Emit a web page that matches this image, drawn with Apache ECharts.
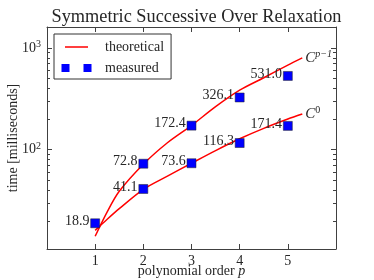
<!DOCTYPE html>
<html>
<head>
<meta charset="utf-8">
<script src="https://cdn.jsdelivr.net/npm/echarts@6/dist/echarts.min.js"></script>
<style>
html,body{margin:0;padding:0;background:#fff;}
#chart{width:374px;height:280px;}
</style>
</head>
<body>
<div id="chart"></div>
<script>
// ---- data ----
var titleText = 'Symmetric Successive Over Relaxation';
var xName = 'polynomial order ';
var yName = 'time [milliseconds]';
var xTicks = [1, 2, 3, 4, 5];
var yMajorTicks = [100, 1000];
var yMinorTicks = [20, 30, 40, 50, 60, 70, 80, 90, 200, 300, 400, 500, 600, 700, 800, 900];

// measured points
var measuredP = [1, 2, 2, 3, 3, 4, 4, 5, 5];
var measuredT = [18.9, 41.1, 72.8, 73.6, 172.4, 116.3, 326.1, 171.4, 531.0];

// theoretical curves
var theoP = [1, 1.25, 1.5, 2, 2.5, 3, 3.5, 4, 4.5, 5, 5.3];
var theoUpper = [14.1, 24.5, 39, 72, 117, 173, 265, 385, 510, 678, 798];
var theoLower = [16.1, 20.7, 26.3, 40.8, 55, 73.6, 98, 128, 162, 200, 224];

var serif = '"Liberation Serif", "DejaVu Serif", serif';
var txt = '#262626';
var axisCol = '#404040';

function pairs(xs, ys) { return xs.map(function (x, i) { return [x, ys[i]]; }); }

var chart = echarts.init(document.getElementById('chart'), null, {renderer: 'canvas'});

var supRich = {
  b: {fontFamily: serif, fontSize: 14, color: txt},
  s: {fontFamily: serif, fontSize: 10, color: txt, padding: [0, 0, 7, 0]}
};

function xAxisCfg(grid, pos, showLabel, showLine, ticks) {
  return {
    type: 'value', gridIndex: grid, position: pos, min: 0, max: 6, interval: 1,
    nameMoveOverlap: false,
    axisLine: {show: showLine, onZero: false, lineStyle: {color: axisCol, width: 1}},
    axisTick: {show: ticks, inside: true, length: 5, lineStyle: {color: axisCol}},
    axisLabel: {show: showLabel, showMinLabel: false, showMaxLabel: false, margin: 5,
      fontFamily: serif, fontSize: 14, color: txt},
    splitLine: {show: false}
  };
}

function yAxisCfg(grid, pos, ticks, len, showLine, showLabel) {
  return {
    type: 'log', gridIndex: grid, position: pos, min: 10.56, max: 1608, logBase: 10,
    nameMoveOverlap: false,
    axisLine: {show: showLine, onZero: false, lineStyle: {color: axisCol, width: 1}},
    axisTick: {show: true, inside: true, length: len, customValues: ticks, lineStyle: {color: axisCol}},
    axisLabel: {show: showLabel, customValues: showLabel ? yMajorTicks : undefined, margin: 6,
      formatter: function (v) {
        var e = Math.log10(v);
        if (Math.abs(e - Math.round(e)) > 1e-6) return '';
        return '{b|10}{s|' + Math.round(e) + '}';
      },
      rich: supRich},
    splitLine: {show: false}
  };
}

var gridBox = {left: 47, top: 27, right: 38, bottom: 31, containLabel: false, outerBoundsMode: 'none'};

var option = {
  animation: false,
  backgroundColor: '#fff',
  title: {
    text: titleText, left: 191.5, textAlign: 'center', top: 3,
    textStyle: {fontFamily: serif, fontSize: 18.3, fontWeight: 'normal', color: txt}
  },
  grid: [Object.assign({}, gridBox), Object.assign({}, gridBox)],
  xAxis: [
    xAxisCfg(0, 'bottom', true, true, true),
    xAxisCfg(0, 'top', false, true, true),
    xAxisCfg(1, 'bottom', false, false, false)
  ],
  yAxis: [
    yAxisCfg(0, 'left', yMajorTicks, 5, true, true),
    yAxisCfg(0, 'right', yMajorTicks, 5, true, false),
    yAxisCfg(1, 'left', yMinorTicks, 3, false, false),
    yAxisCfg(1, 'right', yMinorTicks, 3, false, false)
  ],
  legend: {
    left: 54, top: 34, orient: 'vertical',
    padding: [6, 7, 4, 7], itemGap: 7, itemWidth: 39, itemHeight: 9,
    borderColor: '#333', borderWidth: 1, backgroundColor: '#fff', borderRadius: 0,
    textStyle: {fontFamily: serif, fontSize: 14, color: txt},
    data: [
      {name: 'theoretical', icon: 'path://M0,0h0.05v0.05h-0.05z M4,3.8h23v1.4h-23z M38.95,8.95h0.05v0.05h-0.05z',
        itemStyle: {borderWidth: 0}},
      {name: 'measured', icon: 'path://M0,0h0.05v0.05h-0.05z M0.5,0.5h8v8h-8z M22.5,0.5h8v8h-8z M38.95,8.95h0.05v0.05h-0.05z',
        itemStyle: {borderWidth: 0}}
    ]
  },
  series: [
    {
      name: 'theoretical', type: 'line', xAxisIndex: 0, yAxisIndex: 0,
      data: pairs(theoP, theoUpper), smooth: 0.3, symbol: 'none',
      lineStyle: {color: '#ff0000', width: 1.5}, itemStyle: {color: '#ff0000'},
      endLabel: {show: true, distance: 3, formatter: '{c|C}{s|p\u22121}',
        rich: {c: {fontFamily: serif, fontStyle: 'italic', fontSize: 15, color: txt},
               s: {fontFamily: serif, fontStyle: 'italic', fontSize: 10, color: txt, padding: [0, 0, 8, 0]}}},
      z: 2
    },
    {
      name: 'theoretical', type: 'line', xAxisIndex: 0, yAxisIndex: 0,
      data: pairs(theoP, theoLower), smooth: 0.3, symbol: 'none',
      lineStyle: {color: '#ff0000', width: 1.5}, itemStyle: {color: '#ff0000'},
      endLabel: {show: true, distance: 3, formatter: '{c|C}{s|0}',
        rich: {c: {fontFamily: serif, fontStyle: 'italic', fontSize: 15, color: txt},
               s: {fontFamily: serif, fontSize: 10, color: txt, padding: [0, 0, 8, 0]}}},
      z: 2
    },
    {
      name: 'measured', type: 'scatter', xAxisIndex: 0, yAxisIndex: 0,
      data: pairs(measuredP, measuredT), symbol: 'rect', symbolSize: 9,
      itemStyle: {color: '#0000ff', borderColor: '#222', borderWidth: 0.5, opacity: 1},
      label: {show: true, position: 'left', distance: 1, offset: [0, -2],
        formatter: function (p) { return p.value[1].toFixed(1); },
        fontFamily: serif, fontSize: 14, color: txt},
      z: 3
    }
  ]
};

// axis names via axis config
option.xAxis[0].name = xName + '{i|p}';
option.xAxis[0].nameLocation = 'middle';
option.xAxis[0].nameGap = 15;
option.xAxis[0].nameTextStyle = {fontFamily: serif, fontSize: 14, color: txt,
  rich: {i: {fontFamily: serif, fontStyle: 'italic', fontSize: 14, color: txt}}};
option.yAxis[0].name = yName;
option.yAxis[0].nameLocation = 'middle';
option.yAxis[0].nameGap = 27;
option.yAxis[0].nameTextStyle = {fontFamily: serif, fontSize: 14, color: txt};

chart.setOption(option);
</script>
</body>
</html>
